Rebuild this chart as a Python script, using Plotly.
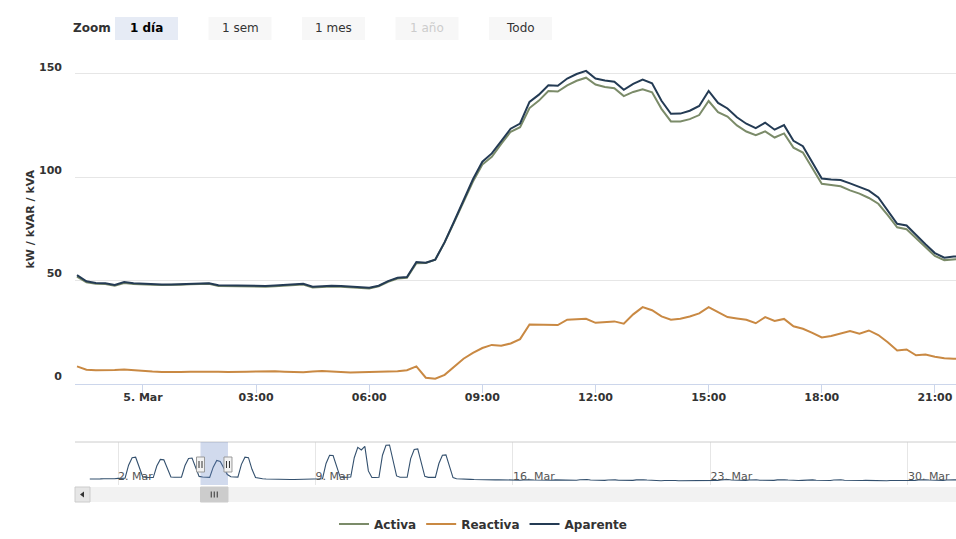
import pandas as pd
import plotly.graph_objects as go

W, H = 956, 539

# ---- 15-minute readings, 4 Mar 22:15 -> 5 Mar 21:45 ----
main_start = "2015-03-04 22:15"
aparente = [
    52.5, 49.5, 48.7, 48.6,
    47.8, 49.2, 48.6, 48.3,
    48.1, 48.0, 48.0, 48.2,
    48.4, 48.5, 48.6, 47.6,
    47.5, 47.3, 47.2, 47.1,
    47.3, 47.5, 47.7, 48.1,
    48.3, 46.9, 47.2, 47.4,
    47.2, 46.9, 46.8, 46.4,
    47.4, 49.6, 51.2, 51.6,
    58.9, 58.5, 60.0, 68.5,
    78.5, 88.5, 99.0, 107.5,
    111.5, 117.5, 123.5, 126.0,
    136.5, 140.0, 144.5, 144.3,
    147.8, 150.0, 151.5, 147.8,
    146.8, 146.2, 142.3, 145.2,
    147.3, 145.5, 137.0, 130.7,
    130.8, 132.2, 134.5, 141.8,
    136.0, 133.3, 129.0, 125.9,
    123.8, 126.4, 123.0, 125.2,
    117.6, 115.0, 107.0, 99.3,
    98.9, 98.6, 97.0, 95.1,
    93.5, 90.2, 84.0, 77.4,
    76.6, 71.8, 67.5, 63.2,
    61.0, 61.5, 61.7,
]
activa = [
    51.8, 49.0, 48.3, 48.2,
    47.4, 48.7, 48.2, 47.9,
    47.8, 47.7, 47.7, 47.9,
    48.1, 48.2, 48.3, 47.3,
    47.2, 47.0, 46.9, 46.7,
    46.9, 47.1, 47.4, 47.8,
    48.0, 46.5, 46.8, 47.0,
    46.9, 46.6, 46.5, 46.1,
    47.1, 49.3, 50.9, 51.2,
    58.3, 58.4, 60.0, 68.4,
    78.1, 87.7, 97.9, 106.1,
    109.9, 116.1, 122.0, 124.2,
    133.5, 137.1, 141.7, 141.5,
    144.5, 146.7, 148.2, 144.9,
    143.7, 143.1, 139.3, 141.3,
    142.6, 141.1, 133.1, 127.0,
    127.0, 128.1, 130.1, 136.9,
    131.5, 129.4, 125.1, 122.1,
    120.3, 122.2, 119.2, 121.2,
    114.3, 111.9, 104.1, 96.8,
    96.2, 95.6, 93.6, 92.0,
    89.9, 87.1, 81.6, 75.7,
    74.8, 70.5, 66.0, 61.8,
    59.8, 60.3, 60.5,
]
reactiva = [
    8.3, 6.7, 6.4, 6.3,
    6.5, 6.8, 6.4, 6.1,
    5.8, 5.6, 5.5, 5.6,
    5.7, 5.8, 5.8, 5.7,
    5.6, 5.5, 5.7, 5.8,
    6.0, 5.9, 5.7, 5.6,
    5.5, 5.8, 6.0, 5.8,
    5.5, 5.3, 5.4, 5.5,
    5.5, 5.5, 5.9, 6.4,
    8.3, 2.8, 2.3, 4.2,
    8.0, 12.0, 14.8, 17.2,
    18.7, 18.3, 19.4, 21.5,
    28.6, 28.5, 28.4, 28.3,
    30.9, 31.2, 31.4, 29.4,
    29.8, 30.1, 29.0, 33.5,
    37.0, 35.5, 32.5, 30.9,
    31.4, 32.5, 34.0, 37.0,
    34.6, 32.2, 31.5, 30.9,
    29.2, 32.2, 30.3, 31.3,
    27.7, 26.5, 24.5, 22.3,
    23.0, 24.3, 25.4, 24.1,
    25.7, 23.5, 20.0, 16.0,
    16.5, 13.7, 14.1, 13.0,
    12.2, 12.0, 11.9,
]

# ---- navigator: 3-hourly apparent power, one row per day from 1 Mar ----
nav_start = "2015-03-01 00:00"
nav_daily = [
    [36, 35, 35, 37, 38, 37, 37, 38],      # 1 Mar
    [40, 40, 41, 120, 165, 168, 110, 50],
    [45, 44, 45, 115, 155, 152, 105, 48],
    [47, 46, 47, 118, 160, 163, 108, 52],
    [48, 47, 46, 108, 148, 142, 99, 63],    # 5 Mar
    [50, 48, 48, 125, 168, 165, 95, 45],
    [40, 38, 36, 35, 36, 35, 34, 34],
    [34, 33, 33, 34, 35, 34, 34, 35],
    [36, 36, 38, 130, 180, 178, 110, 48],   # 9 Mar
    [46, 45, 48, 165, 228, 212, 234, 85],
    [46, 45, 47, 180, 240, 242, 150, 55],
    [47, 46, 47, 160, 215, 218, 130, 52],
    [46, 45, 46, 130, 180, 182, 105, 45],
    [38, 36, 34, 33, 34, 33, 32, 32],
    [31, 30, 30, 31, 32, 31, 30, 30],
    [30, 29, 29, 31, 33, 32, 30, 29],       # 16 Mar
    [28, 27, 27, 29, 31, 30, 29, 28],
    [28, 28, 29, 32, 34, 33, 30, 29],
    [29, 28, 28, 30, 32, 31, 29, 28],
    [27, 27, 28, 31, 33, 32, 30, 28],
    [27, 26, 26, 27, 28, 27, 27, 26],
    [26, 26, 26, 27, 27, 27, 26, 27],
    [28, 27, 28, 31, 34, 33, 30, 29],       # 23 Mar
    [28, 27, 28, 30, 33, 32, 29, 28],
    [28, 28, 28, 31, 33, 32, 30, 28],
    [27, 27, 28, 30, 32, 31, 29, 28],
    [28, 27, 27, 30, 33, 32, 29, 28],
    [27, 26, 26, 27, 28, 27, 27, 26],
    [26, 26, 26, 27, 27, 26, 26, 27],
    [28, 27, 28, 31, 33, 32, 30, 29],       # 30 Mar
    [28, 27, 28, 30, 33, 32, 30, 29],
]

# ---- axes ticks and ranges ----
main_tickvals = ["2015-03-05 00:00", "2015-03-05 03:00", "2015-03-05 06:00", "2015-03-05 09:00",
                 "2015-03-05 12:00", "2015-03-05 15:00", "2015-03-05 18:00", "2015-03-05 21:00"]
main_ticktext = ["5. Mar", "03:00", "06:00", "09:00", "12:00", "15:00", "18:00", "21:00"]
y_tickvals = [0, 50, 100, 150]
nav_tickvals = ["2015-03-02", "2015-03-09", "2015-03-16", "2015-03-23", "2015-03-30"]
nav_ticktext = ["2. Mar", "9. Mar", "16. Mar", "23. Mar", "30. Mar"]
view_start, view_end = "2015-03-04 22:11:49", "2015-03-05 21:33:36"
view_mid = "2015-03-05 09:52:42"
nav_range = ["2015-02-28 11:25", "2015-03-31 16:56"]

buttons = ["1 día", "1 sem", "1 mes", "1 año", "Todo"]

# ---- build ----
t_main = pd.date_range(main_start, periods=len(aparente), freq="15min")
nav_values = [v for day in nav_daily for v in day]
t_nav = pd.date_range(nav_start, periods=len(nav_values), freq="3h")


def X(px):
    return px / W


def Y(py):
    return 1 - py / H


FONT = "DejaVu Sans"
fig = go.Figure()

series = [("Activa", activa, "#7b8b69"), ("Reactiva", reactiva, "#c98943"),
          ("Aparente", aparente, "#243b54")]
for name, vals, col in series:
    fig.add_trace(go.Scatter(x=t_main, y=vals, name=name, mode="lines",
                             line=dict(color=col, width=2), xaxis="x", yaxis="y"))

fig.add_trace(go.Scatter(x=t_nav, y=nav_values, mode="lines", showlegend=False,
                         line=dict(color="#33506e", width=1.1), xaxis="x2", yaxis="y2"))

shapes = []
# range-selector buttons
for i, lab in enumerate(buttons):
    x0 = 115 + 93.5 * i
    shapes.append(dict(type="rect", xref="paper", yref="paper", x0=X(x0), x1=X(x0 + 63),
                       y0=Y(40), y1=Y(17), line=dict(width=0),
                       fillcolor="#e6ebf5" if i == 0 else "#f7f7f7", layer="below"))

# navigator outline
shapes.append(dict(type="line", xref="paper", yref="paper", x0=X(75), x1=1, y0=Y(442), y1=Y(442),
                   line=dict(color="#cccccc", width=1)))
# selected window mask
shapes.append(dict(type="rect", xref="x2", yref="paper", x0=view_start, x1=view_end,
                   y0=Y(485), y1=Y(442), line=dict(width=0),
                   fillcolor="rgba(102,133,194,0.3)", layer="above"))
# scrollbar track, button and thumb
shapes.append(dict(type="rect", xref="paper", yref="paper", x0=X(75), x1=1, y0=Y(502), y1=Y(487),
                   line=dict(width=0), fillcolor="#f2f2f2"))
shapes.append(dict(type="rect", xref="paper", yref="paper", x0=X(75), x1=X(90), y0=Y(502), y1=Y(487),
                   line=dict(color="#cccccc", width=1), fillcolor="#e6e6e6"))
shapes.append(dict(type="path", xref="paper", yref="paper",
                   path=f"M {X(80)} {Y(494.5)} L {X(84)} {Y(491.5)} L {X(84)} {Y(497.5)} Z",
                   fillcolor="#333333", line=dict(width=0)))
shapes.append(dict(type="rect", xref="x2", yref="paper", x0=view_start, x1=view_end,
                   y0=Y(502), y1=Y(487), line=dict(color="#cccccc", width=1), fillcolor="#cccccc"))
for off in (-3, 0, 3):
    shapes.append(dict(type="line", xref="x2", xsizemode="pixel", xanchor=view_mid, x0=off, x1=off,
                       yref="paper", y0=Y(497.5), y1=Y(491.5), line=dict(color="#333333", width=1)))
# navigator handles
for anchor in (view_start, view_end):
    shapes.append(dict(type="rect", xref="x2", xsizemode="pixel", xanchor=anchor, x0=-4, x1=4,
                       yref="paper", y0=Y(472), y1=Y(457), fillcolor="#f2f2f2",
                       line=dict(color="#999999", width=1), layer="above"))
    for off in (-1.5, 1.5):
        shapes.append(dict(type="line", xref="x2", xsizemode="pixel", xanchor=anchor, x0=off, x1=off,
                           yref="paper", y0=Y(468), y1=Y(461), line=dict(color="#333333", width=1),
                           layer="above"))

annotations = [dict(text="<b>Zoom</b>", xref="paper", yref="paper", x=X(92), y=Y(28),
                    xanchor="center", yanchor="middle", showarrow=False,
                    font=dict(family=FONT, size=12, color="#333333"))]
for i, lab in enumerate(buttons):
    cx = 115 + 93.5 * i + 31.5
    if i == 0:
        txt, col = f"<b>{lab}</b>", "#000000"
    elif lab == "1 año":
        txt, col = lab, "#cccccc"
    else:
        txt, col = lab, "#333333"
    annotations.append(dict(text=txt, xref="paper", yref="paper", x=X(cx), y=Y(28),
                            xanchor="center", yanchor="middle", showarrow=False,
                            font=dict(family=FONT, size=12, color=col)))

tick_font = dict(family=FONT, size=11, color="#333333", weight="bold")

fig.update_layout(
    width=W, height=H,
    margin=dict(l=0, r=0, t=0, b=0),
    paper_bgcolor="white", plot_bgcolor="white",
    shapes=shapes, annotations=annotations,
    xaxis=dict(domain=[X(75), 1], anchor="y", range=[view_start, view_end], type="date",
               tickvals=main_tickvals, ticktext=main_ticktext, tickfont=tick_font,
               showline=True, linecolor="#ccd6eb", linewidth=1, ticklabelstandoff=-5,
               ticks="outside", ticklen=8, tickcolor="#ccd6eb", showgrid=False, zeroline=False),
    yaxis=dict(domain=[Y(383.5), Y(55)], anchor="x", range=[0, 159.2],
               tickvals=y_tickvals, tickfont=tick_font, ticklabelshift=-7, ticklabelstandoff=12,
               showgrid=True, gridcolor="#e6e6e6", gridwidth=1, zeroline=False, showline=False,
               title=dict(text="kW / kVAR / kVA", standoff=2,
                          font=dict(family=FONT, size=11, color="#333333", weight="bold"))),
    xaxis2=dict(domain=[X(75), 1], anchor="y2", range=nav_range, type="date",
                tickvals=nav_tickvals, ticktext=nav_ticktext, ticklabelposition="inside right",
                ticklabelstandoff=-3,
                tickfont=dict(family=FONT, size=11, color="#555555"),
                showgrid=True, gridcolor="#e6e6e6", showline=False, zeroline=False, ticks=""),
    yaxis2=dict(domain=[Y(485), Y(442)], anchor="x2", range=[0, 260], visible=False),
    legend=dict(orientation="h", x=X(334), xanchor="left", y=Y(524), yanchor="middle",
                font=dict(family=FONT, size=12, color="#333333", weight="bold"),
                bgcolor="rgba(0,0,0,0)"),
    hovermode=False,
)

# page without default body margins so the figure fills the window exactly
fig.write_html("out.html",
               post_script="document.body.style.margin='0';document.body.style.overflow='hidden';")
